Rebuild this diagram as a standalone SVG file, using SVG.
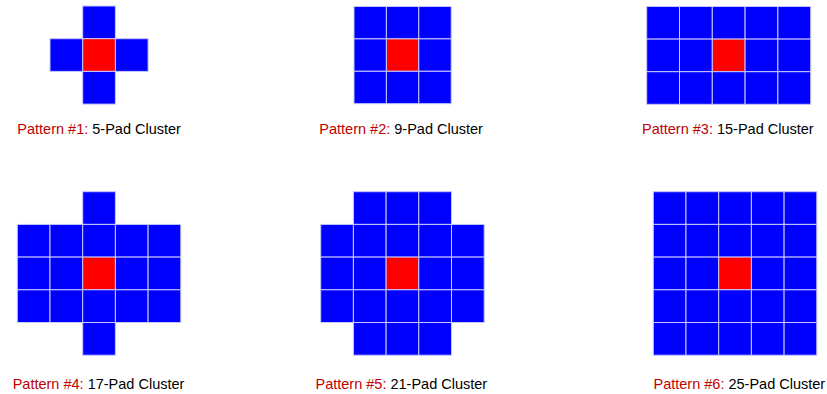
<svg xmlns="http://www.w3.org/2000/svg" width="827" height="394" viewBox="0 0 827 394">
<style>
.c{fill:#0000FF;stroke:#c8c8ff;stroke-width:1}
.r{fill:#FF0000;stroke:#c8c8ff;stroke-width:1}
.lbl{font-family:"Liberation Sans",Arial,sans-serif;font-size:14.5px;fill:#000}
.red{fill:#C00000}
</style>
<rect width="827" height="394" fill="#fff"/>
<g id="pattern1">
<rect class="c" x="82.7" y="6" width="32.7" height="32.7"/>
<rect class="c" x="50" y="38.7" width="32.7" height="32.7"/>
<rect class="r" x="82.7" y="38.7" width="32.7" height="32.7"/>
<rect class="c" x="115.4" y="38.7" width="32.7" height="32.7"/>
<rect class="c" x="82.7" y="71.4" width="32.7" height="32.7"/>
<text class="lbl" x="17.3" y="134"><tspan class="red">Pattern #1:</tspan> 5-Pad Cluster</text>
</g>
<g id="pattern2">
<rect class="c" x="354" y="6.5" width="32.4" height="32.4"/>
<rect class="c" x="386.4" y="6.5" width="32.4" height="32.4"/>
<rect class="c" x="418.8" y="6.5" width="32.4" height="32.4"/>
<rect class="c" x="354" y="38.9" width="32.4" height="32.4"/>
<rect class="r" x="386.4" y="38.9" width="32.4" height="32.4"/>
<rect class="c" x="418.8" y="38.9" width="32.4" height="32.4"/>
<rect class="c" x="354" y="71.3" width="32.4" height="32.4"/>
<rect class="c" x="386.4" y="71.3" width="32.4" height="32.4"/>
<rect class="c" x="418.8" y="71.3" width="32.4" height="32.4"/>
<text class="lbl" x="319.3" y="134"><tspan class="red">Pattern #2:</tspan> 9-Pad Cluster</text>
</g>
<g id="pattern3">
<rect class="c" x="646.7" y="6.5" width="32.8" height="32.6"/>
<rect class="c" x="679.5" y="6.5" width="32.8" height="32.6"/>
<rect class="c" x="712.3" y="6.5" width="32.8" height="32.6"/>
<rect class="c" x="745.1" y="6.5" width="32.8" height="32.6"/>
<rect class="c" x="777.9" y="6.5" width="32.8" height="32.6"/>
<rect class="c" x="646.7" y="39.1" width="32.8" height="32.6"/>
<rect class="c" x="679.5" y="39.1" width="32.8" height="32.6"/>
<rect class="r" x="712.3" y="39.1" width="32.8" height="32.6"/>
<rect class="c" x="745.1" y="39.1" width="32.8" height="32.6"/>
<rect class="c" x="777.9" y="39.1" width="32.8" height="32.6"/>
<rect class="c" x="646.7" y="71.7" width="32.8" height="32.6"/>
<rect class="c" x="679.5" y="71.7" width="32.8" height="32.6"/>
<rect class="c" x="712.3" y="71.7" width="32.8" height="32.6"/>
<rect class="c" x="745.1" y="71.7" width="32.8" height="32.6"/>
<rect class="c" x="777.9" y="71.7" width="32.8" height="32.6"/>
<text class="lbl" x="642" y="134"><tspan class="red">Pattern #3:</tspan> 15-Pad Cluster</text>
</g>
<g id="pattern4">
<rect class="c" x="82.7" y="191.7" width="32.7" height="32.7"/>
<rect class="c" x="17.3" y="224.4" width="32.7" height="32.7"/>
<rect class="c" x="50" y="224.4" width="32.7" height="32.7"/>
<rect class="c" x="82.7" y="224.4" width="32.7" height="32.7"/>
<rect class="c" x="115.4" y="224.4" width="32.7" height="32.7"/>
<rect class="c" x="148.1" y="224.4" width="32.7" height="32.7"/>
<rect class="c" x="17.3" y="257.1" width="32.7" height="32.7"/>
<rect class="c" x="50" y="257.1" width="32.7" height="32.7"/>
<rect class="r" x="82.7" y="257.1" width="32.7" height="32.7"/>
<rect class="c" x="115.4" y="257.1" width="32.7" height="32.7"/>
<rect class="c" x="148.1" y="257.1" width="32.7" height="32.7"/>
<rect class="c" x="17.3" y="289.8" width="32.7" height="32.7"/>
<rect class="c" x="50" y="289.8" width="32.7" height="32.7"/>
<rect class="c" x="82.7" y="289.8" width="32.7" height="32.7"/>
<rect class="c" x="115.4" y="289.8" width="32.7" height="32.7"/>
<rect class="c" x="148.1" y="289.8" width="32.7" height="32.7"/>
<rect class="c" x="82.7" y="322.5" width="32.7" height="32.7"/>
<text class="lbl" x="12.7" y="389"><tspan class="red">Pattern #4:</tspan> 17-Pad Cluster</text>
</g>
<g id="pattern5">
<rect class="c" x="353.4" y="191.7" width="32.7" height="32.7"/>
<rect class="c" x="386.1" y="191.7" width="32.7" height="32.7"/>
<rect class="c" x="418.8" y="191.7" width="32.7" height="32.7"/>
<rect class="c" x="320.7" y="224.4" width="32.7" height="32.7"/>
<rect class="c" x="353.4" y="224.4" width="32.7" height="32.7"/>
<rect class="c" x="386.1" y="224.4" width="32.7" height="32.7"/>
<rect class="c" x="418.8" y="224.4" width="32.7" height="32.7"/>
<rect class="c" x="451.5" y="224.4" width="32.7" height="32.7"/>
<rect class="c" x="320.7" y="257.1" width="32.7" height="32.7"/>
<rect class="c" x="353.4" y="257.1" width="32.7" height="32.7"/>
<rect class="r" x="386.1" y="257.1" width="32.7" height="32.7"/>
<rect class="c" x="418.8" y="257.1" width="32.7" height="32.7"/>
<rect class="c" x="451.5" y="257.1" width="32.7" height="32.7"/>
<rect class="c" x="320.7" y="289.8" width="32.7" height="32.7"/>
<rect class="c" x="353.4" y="289.8" width="32.7" height="32.7"/>
<rect class="c" x="386.1" y="289.8" width="32.7" height="32.7"/>
<rect class="c" x="418.8" y="289.8" width="32.7" height="32.7"/>
<rect class="c" x="451.5" y="289.8" width="32.7" height="32.7"/>
<rect class="c" x="353.4" y="322.5" width="32.7" height="32.7"/>
<rect class="c" x="386.1" y="322.5" width="32.7" height="32.7"/>
<rect class="c" x="418.8" y="322.5" width="32.7" height="32.7"/>
<text class="lbl" x="315.5" y="389"><tspan class="red">Pattern #5:</tspan> 21-Pad Cluster</text>
</g>
<g id="pattern6">
<rect class="c" x="653.3" y="191.7" width="32.7" height="32.7"/>
<rect class="c" x="686" y="191.7" width="32.7" height="32.7"/>
<rect class="c" x="718.7" y="191.7" width="32.7" height="32.7"/>
<rect class="c" x="751.4" y="191.7" width="32.7" height="32.7"/>
<rect class="c" x="784.1" y="191.7" width="32.7" height="32.7"/>
<rect class="c" x="653.3" y="224.4" width="32.7" height="32.7"/>
<rect class="c" x="686" y="224.4" width="32.7" height="32.7"/>
<rect class="c" x="718.7" y="224.4" width="32.7" height="32.7"/>
<rect class="c" x="751.4" y="224.4" width="32.7" height="32.7"/>
<rect class="c" x="784.1" y="224.4" width="32.7" height="32.7"/>
<rect class="c" x="653.3" y="257.1" width="32.7" height="32.7"/>
<rect class="c" x="686" y="257.1" width="32.7" height="32.7"/>
<rect class="r" x="718.7" y="257.1" width="32.7" height="32.7"/>
<rect class="c" x="751.4" y="257.1" width="32.7" height="32.7"/>
<rect class="c" x="784.1" y="257.1" width="32.7" height="32.7"/>
<rect class="c" x="653.3" y="289.8" width="32.7" height="32.7"/>
<rect class="c" x="686" y="289.8" width="32.7" height="32.7"/>
<rect class="c" x="718.7" y="289.8" width="32.7" height="32.7"/>
<rect class="c" x="751.4" y="289.8" width="32.7" height="32.7"/>
<rect class="c" x="784.1" y="289.8" width="32.7" height="32.7"/>
<rect class="c" x="653.3" y="322.5" width="32.7" height="32.7"/>
<rect class="c" x="686" y="322.5" width="32.7" height="32.7"/>
<rect class="c" x="718.7" y="322.5" width="32.7" height="32.7"/>
<rect class="c" x="751.4" y="322.5" width="32.7" height="32.7"/>
<rect class="c" x="784.1" y="322.5" width="32.7" height="32.7"/>
<text class="lbl" x="653.5" y="389"><tspan class="red">Pattern #6:</tspan> 25-Pad Cluster</text>
</g>
</svg>
